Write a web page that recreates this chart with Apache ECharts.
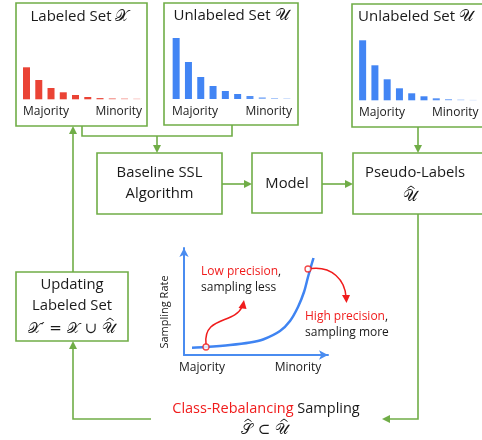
<!DOCTYPE html>
<html><head><meta charset="utf-8">
<script src="https://cdn.jsdelivr.net/npm/echarts@6/dist/echarts.min.js"></script>
<style>html,body{margin:0;padding:0;background:#fff}#c{width:482px;height:440px}</style>
</head><body><div id="c"></div>
<script>
// ---- data ----
const classes = ['c1','c2','c3','c4','c5','c6','c7','c8','c9','c10'];
const labeledCounts = [32, 19.3, 11.3, 7, 4.3, 2.3, 1.3, 1.1, 1, 0.8];
const unlabeledCounts = [61, 37, 22, 13, 8, 5, 3, 1.7, 1, 0.7];
const unlabeledCounts2 = [60, 35, 21, 12, 7, 4, 2, 1.3, 0.8, 0.4];
const samplingCurve = [[8,7.3],[21,8],[46,10],[66,12.5],[79,15.5],[96,24],[106,34],[114,48],[120,63],[124,78],[128,92],[129.5,97]];
const precisionPoints = [[22,8],[124,86]];
const axisNames = ['Majority','Minority'];

const GREEN = '#70ad47', RED = '#f01c1c', BLUE = '#3f84f2', TXT = '#1a1a1a';
const FONT = '"Open Sans", "Noto Sans", sans-serif';
const MATH = '"DejaVu Serif", "Noto Sans", serif';
const fade = [1,1,1,1,1,1,0.9,0.6,0.45,0.35];

const chart = echarts.init(document.getElementById('c'), null, {renderer:'canvas'});

function barGrid(i){ return {
  x:{gridIndex:i,type:'category',data:classes,show:false},
  y:{gridIndex:i,type:'value',min:0,show:false}
};}
const grids = [
  {left:20.4, top:38, width:122.5, height:61.3},
  {left:170, top:38, width:123, height:61},
  {left:356.5, top:39.3, width:122.7, height:61},
  {left:184, top:248, width:144, height:107}
];
const xAxes = [], yAxes = [];
for (let i=0;i<3;i++){ const g=barGrid(i); xAxes.push(g.x); yAxes.push(g.y); }
yAxes[0].max = 61.3; yAxes[1].max = 61; yAxes[2].max = 61;
const axLine = {show:true, symbol:['none','arrow'], symbolSize:[7,9], lineStyle:{color:'#4a8cf0', width:2}};
xAxes.push({gridIndex:3,type:'value',min:0,max:144,axisLine:axLine,axisTick:{show:false},axisLabel:{show:false},splitLine:{show:false}});
yAxes.push({gridIndex:3,type:'value',min:0,max:107,axisLine:axLine,axisTick:{show:false},axisLabel:{show:false},splitLine:{show:false}});

function bars(idx, vals, color){ return {
  type:'bar', xAxisIndex:idx, yAxisIndex:idx, barWidth:7, silent:true,
  data: vals.map((v,i)=>({value:v, itemStyle:{color:color, opacity:fade[i]}}))
};}

// graphic helpers
const G = [];
function rect(x,y,w,h){ G.push({type:'rect',shape:{x,y,width:w,height:h},style:{fill:'none',stroke:GREEN,lineWidth:1.6},z:10}); }
function poly(pts){ G.push({type:'polyline',shape:{points:pts},style:{fill:'none',stroke:GREEN,lineWidth:1.6},z:10}); }
function hat(x,y){ G.push({type:'polyline',shape:{points:[[x-3.5,y+2.5],[x,y],[x+3.5,y+2.5]]},style:{fill:'none',stroke:TXT,lineWidth:1},z:13}); }
function head(x,y,dir,color){ // tip at x,y
  const L=8,W=4; let p;
  if(dir==='down') p=[[x,y],[x-W,y-L],[x+W,y-L]];
  if(dir==='up') p=[[x,y],[x-W,y+L],[x+W,y+L]];
  if(dir==='right') p=[[x,y],[x-L,y-W],[x-L,y+W]];
  if(dir==='left') p=[[x,y],[x+L,y-W],[x+L,y+W]];
  G.push({type:'polygon',shape:{points:p},style:{fill:color||GREEN},z:11});
}
function text(t,x,y,opt){ opt=opt||{}; G.push({type:'text',x,y,z:12,rotation:opt.rot||0,style:{
  text:t, fill:opt.fill||TXT, font:(opt.size||14)+'px '+(opt.family||FONT),
  textAlign:opt.align||'center', textVerticalAlign:'middle', rich:opt.rich}}); }

// boxes
rect(16,3,131,123);
rect(164,3,134,122);
rect(352,4,140,123);
rect(97,153,125,61);
rect(252,153,70,60);
rect(353,153,140,61);
rect(16,272,112,69);
// connectors
poly([[82,126],[82,136],[232,136],[232,125]]);
poly([[157,136],[157,150]]); head(157,153,'down');
poly([[73,272],[73,129]]); head(73,126,'up');
poly([[418,127],[418,150]]); head(418,153,'down');
poly([[222,184],[249,184]]); head(252,184,'right');
poly([[322,184],[350,184]]); head(353,184,'right');
poly([[418,214],[418,419],[385,419]]); head(382,419,'left');
poly([[151,419],[73,419],[73,344]]); head(73,341,'up');

// titles
const mrich = {m:{font:'16px '+MATH, fill:TXT}};
text('Labeled Set {m|𝒳}',80,17,{size:15,rich:mrich});
text('Unlabeled Set {m|𝒰}',231,16,{size:15,rich:mrich});
text('Unlabeled Set {m|𝒰}',358,17,{size:15,align:'left',rich:mrich});
text(axisNames[0],23,112,{size:12,align:'left'});
text(axisNames[1],142,112,{size:12,align:'right'});
text(axisNames[0],172,112,{size:12,align:'left'});
text(axisNames[1],292,112,{size:12,align:'right'});
text(axisNames[0],359,113,{size:12,align:'left'});
text(axisNames[1],432,113,{size:12,align:'left'});

text('Baseline SSL',159.5,173,{size:14.8});
text('Algorithm',159.5,194,{size:14.8});
text('Model',287,184,{size:14.8});
text('Pseudo-Labels',365,173,{size:14.8,align:'left'});
text('𝒰',410,197,{size:16,family:MATH}); hat(411,186);
text('Updating',72,285,{size:14.8});
text('Labeled Set',72,306,{size:14.8});
text('𝒳′ = 𝒳 ∪ 𝒰',72,329,{size:15,family:MATH}); hat(110,318);
text('{r|Class-Rebalancing} Sampling',266,409,{size:14.5,rich:{r:{fill:RED,font:'14.5px '+FONT}}});
text('𝒮 ⊂ 𝒰',265,430,{size:15,family:MATH}); hat(248,419); hat(284,419);

// inner chart annotations
text('Sampling Rate',165,312,{size:11,rot:Math.PI/2});
text(axisNames[0],202,368,{size:12});
text(axisNames[1],298,368,{size:12});
text('{r|Low precision},',201,272,{size:12,align:'left',rich:{r:{fill:RED,font:'12px '+FONT}}});
text('sampling less',201,288,{size:12,align:'left'});
text('{r|High precision},',305,317,{size:12,align:'left',rich:{r:{fill:RED,font:'12px '+FONT}}});
text('sampling more',305,333,{size:12,align:'left'});
G.push({type:'bezierCurve',shape:{x1:206,y1:344,cpx1:203,cpy1:316,cpx2:234,cpy2:324,x2:242,y2:307},style:{stroke:RED,lineWidth:1.5,fill:'none'},z:12});
G.push({type:'polygon',shape:{points:[[244,300],[238.5,308],[246.5,309]]},style:{fill:RED},z:12});
G.push({type:'bezierCurve',shape:{x1:311,y1:268.5,cpx1:332,cpy1:266,cpx2:345,cpy2:280,x2:346,y2:297},style:{stroke:RED,lineWidth:1.5,fill:'none'},z:12});
G.push({type:'polygon',shape:{points:[[346.5,303],[342,295],[350,295]]},style:{fill:RED},z:12});

chart.setOption({
  animation:false,
  grid:grids, xAxis:xAxes, yAxis:yAxes,
  series:[
    bars(0,labeledCounts,'#ea4335'),
    bars(1,unlabeledCounts,'#4285f4'),
    bars(2,unlabeledCounts2,'#4285f4'),
    {type:'line',xAxisIndex:3,yAxisIndex:3,data:samplingCurve,smooth:0.3,showSymbol:false,lineStyle:{color:BLUE,width:2.5},z:5},
    {type:'scatter',xAxisIndex:3,yAxisIndex:3,data:precisionPoints,symbol:'circle',symbolSize:6,itemStyle:{color:'#fff',borderColor:RED,borderWidth:1.3},z:20}
  ],
  graphic:G
});
</script></body></html>
